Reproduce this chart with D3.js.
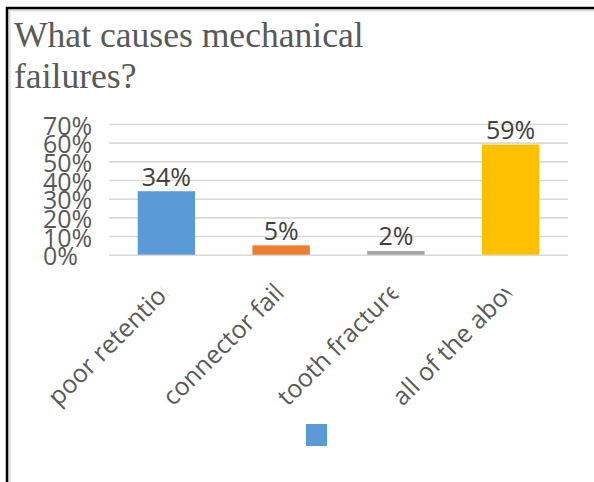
<!DOCTYPE html>
<html>
<head>
<meta charset="utf-8">
<script src="https://cdn.jsdelivr.net/npm/d3@7"></script>
<style>
  html, body { margin: 0; padding: 0; background: #fff; }
  svg { display: block; }
</style>
</head>
<body>
<svg id="chart" width="594" height="482"></svg>
<script>
// ---- data ----
const titleLines = ["What causes mechanical", "failures?"];
const categories = ["poor retention", "connector failure", "tooth fracture", "all of the above"];
const values = [0.34, 0.05, 0.02, 0.59];
const barColors = ["#5B9BD5", "#ED7D31", "#A5A5A5", "#FFC000"];
const yTicks = [0, 0.1, 0.2, 0.3, 0.4, 0.5, 0.6, 0.7];
const legendColors = ["#5B9BD5"];

// ---- layout ----
const W = 594, H = 482;
const plot = { left: 109, right: 568, top: 124, bottom: 254.7 };
const sansFont = "'Open Sans', 'Noto Sans', sans-serif";
const fs = 25;

const svg = d3.select("#chart");
svg.append("rect").attr("width", W).attr("height", H).attr("fill", "#fff");

// frame (top and left edges)
svg.append("line").attr("x1", 9).attr("x2", W).attr("y1", 10.5).attr("y2", 10.5)
  .attr("stroke", "#dcdcdc").attr("stroke-width", 2);
svg.append("line").attr("x1", 9.5).attr("x2", 9.5).attr("y1", 9).attr("y2", H)
  .attr("stroke", "#dcdcdc").attr("stroke-width", 2);
svg.append("line").attr("x1", 6).attr("x2", W).attr("y1", 8).attr("y2", 8)
  .attr("stroke", "#000").attr("stroke-width", 2.5);
svg.append("line").attr("x1", 7).attr("x2", 7).attr("y1", 7).attr("y2", H)
  .attr("stroke", "#000").attr("stroke-width", 2.5);

// title
const title = svg.append("text")
  .attr("font-family", "'Liberation Serif', 'Times New Roman', serif")
  .attr("font-size", 35.6).attr("fill", "#595959");
titleLines.forEach((t, i) => {
  title.append("tspan").attr("x", 14).attr("y", 47 + i * 41).text(t);
});

// scales
const x = d3.scaleBand().domain(categories).range([plot.left, plot.right])
  .paddingInner(0.5).paddingOuter(0.25);
const y = d3.scaleLinear().domain([0, 0.7]).range([plot.bottom, plot.top]);

// gridlines via axis
const grid = svg.append("g")
  .attr("transform", `translate(${plot.left},0)`)
  .call(d3.axisLeft(y).tickValues(yTicks).tickSize(-(plot.right - plot.left)).tickFormat(""));
grid.select(".domain").remove();
grid.selectAll(".tick line").attr("stroke", "#D9D9D9").attr("stroke-width", 1.6);

// y tick labels (left aligned, overlapping as in the reference)
svg.append("g").selectAll("text").data(yTicks).join("text")
  .attr("x", 43)
  .attr("y", d => y(d) + 10.5)
  .attr("font-family", sansFont).attr("font-size", fs).attr("fill", "#595959")
  .text(d => d3.format(".0%")(d));

// bars
svg.append("g").selectAll("rect").data(categories).join("rect")
  .attr("x", d => x(d))
  .attr("width", x.bandwidth())
  .attr("y", (d, i) => y(values[i]))
  .attr("height", (d, i) => y(0) - y(values[i]))
  .attr("fill", (d, i) => barColors[i]);

// value labels
svg.append("g").selectAll("text").data(categories).join("text")
  .attr("x", d => x(d) + x.bandwidth() / 2)
  .attr("y", (d, i) => y(values[i]) - 5.5)
  .attr("text-anchor", "middle")
  .attr("font-family", sansFont).attr("font-size", fs).attr("fill", "#404040")
  .text((d, i) => d3.format(".0%")(values[i]));

// rotated, clipped category labels
const L = 157;
const defs = svg.append("defs");
defs.append("clipPath").attr("id", "lblclip")
  .append("rect").attr("x", -L).attr("y", -fs * 1.3).attr("width", L).attr("height", fs * 1.8);

const lbl = svg.append("g").selectAll("g").data(categories).join("g")
  .attr("transform", d => `translate(${x(d) + x.bandwidth() / 2 + 3},296) rotate(-45)`);
lbl.append("text")
  .attr("x", -L).attr("y", 0)
  .attr("clip-path", "url(#lblclip)")
  .attr("font-family", sansFont).attr("font-size", fs).attr("fill", "#595959")
  .text(d => d);

// legend (single swatch, no label)
svg.append("g").selectAll("rect").data(legendColors).join("rect")
  .attr("x", 306).attr("y", 424).attr("width", 21).attr("height", 22)
  .attr("fill", d => d);
</script>
</body>
</html>
